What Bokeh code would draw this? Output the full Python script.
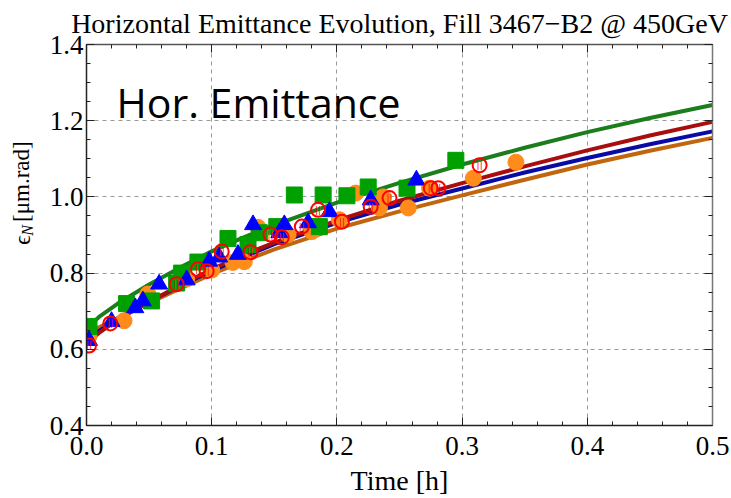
import math
from bokeh.plotting import figure
from bokeh.layouts import row
from bokeh.models import Label, LinearAxis, Range1d, FixedTicker, CustomJSTickFormatter
from bokeh.core.properties import value
from bokeh.embed import file_html
from bokeh.resources import INLINE

# ---- data ----
t_line = [0.0, 0.01, 0.025, 0.05, 0.075, 0.1, 0.125, 0.15, 0.2, 0.25, 0.3, 0.35, 0.4, 0.45, 0.5]
green_line = [0.655, 0.685, 0.720, 0.770, 0.815, 0.857, 0.893, 0.926, 0.985, 1.037, 1.085, 1.129, 1.170, 1.207, 1.241]
red_line = [0.615, 0.643, 0.678, 0.725, 0.768, 0.810, 0.847, 0.880, 0.938, 0.990, 1.036, 1.080, 1.122, 1.161, 1.197]
blue_line = [0.625, 0.648, 0.680, 0.725, 0.766, 0.806, 0.842, 0.876, 0.932, 0.980, 1.022, 1.064, 1.102, 1.138, 1.172]
orange_line = [0.640, 0.658, 0.682, 0.722, 0.760, 0.797, 0.831, 0.862, 0.917, 0.962, 1.004, 1.045, 1.085, 1.121, 1.155]

green_t = [0.002, 0.032, 0.052, 0.072, 0.076, 0.089, 0.113, 0.129, 0.138, 0.152, 0.166, 0.186, 0.189, 0.208, 0.225, 0.256, 0.295]
green_v = [0.660, 0.720, 0.727, 0.774, 0.800, 0.829, 0.891, 0.875, 0.906, 0.922, 1.005, 0.922, 1.005, 1.003, 1.026, 1.023, 1.096]

blue_t = [0.002, 0.020, 0.039, 0.045, 0.058, 0.080, 0.098, 0.106, 0.121, 0.133, 0.154, 0.158, 0.177, 0.194, 0.227, 0.2635]
blue_v = [0.623, 0.673, 0.709, 0.727, 0.771, 0.782, 0.831, 0.842, 0.849, 0.927, 0.906, 0.927, 0.932, 0.961, 0.992, 1.044]

red_t = [0.002, 0.019, 0.072, 0.089, 0.096, 0.108, 0.131, 0.147, 0.156, 0.172, 0.185, 0.204, 0.227, 0.242, 0.275, 0.281, 0.314]
red_v = [0.610, 0.668, 0.771, 0.810, 0.805, 0.857, 0.855, 0.901, 0.894, 0.922, 0.966, 0.935, 0.974, 0.997, 1.023, 1.023, 1.083]

orange_t = [0.002, 0.030, 0.049, 0.080, 0.100, 0.117, 0.126, 0.137, 0.161, 0.180, 0.202, 0.215, 0.234, 0.237, 0.257, 0.274, 0.309, 0.343]
orange_v = [0.634, 0.675, 0.745, 0.785, 0.808, 0.828, 0.830, 0.920, 0.901, 0.909, 0.940, 1.010, 0.971, 1.000, 0.971, 1.023, 1.049, 1.091]

x_ticks = [0.0, 0.1, 0.2, 0.3, 0.4, 0.5]
y_ticks = [0.4, 0.6, 0.8, 1.0, 1.2, 1.4]

title_text = "Horizontal Emittance Evolution, Fill 3467\u2212B2 @ 450GeV"
x_label = "Time [h]"
y_label_sym = "\u03f5"
y_label_sub = "N"
y_label_unit = "[\u03bcm.rad]"
inset_text = "Hor. Emittance"

SERIF = "Liberation Serif"
W_LEFT = 46

# ---- narrow strip holding the rotated y-axis label ----
lab = figure(width=W_LEFT, height=498, output_backend="svg", toolbar_location=None,
             x_range=Range1d(0, W_LEFT), y_range=Range1d(0, 498),
             x_axis_type=None, y_axis_type=None,
             min_border=0, min_border_left=0, min_border_right=0, min_border_top=0, min_border_bottom=0)
lab.outline_line_color = None
lab.xgrid.visible = False
lab.ygrid.visible = False
lab.background_fill_color = "white"
lab.border_fill_color = "white"
lab.add_layout(Label(x=21, y=236, text=y_label_sym, text_font=SERIF, text_font_size="24px",
                     text_align="left", text_baseline="middle", angle=math.pi / 2, text_color="black"))
lab.add_layout(Label(x=27, y=248, text=y_label_sub, text_font=SERIF, text_font_size="16px",
                     text_font_style="italic", text_align="left", text_baseline="middle",
                     angle=math.pi / 2, text_color="black"))
lab.add_layout(Label(x=21, y=266, text=y_label_unit, text_font=SERIF, text_font_size="23px",
                     text_align="left", text_baseline="middle", angle=math.pi / 2, text_color="black"))

# ---- main plot ----
p = figure(width=731 - W_LEFT, height=498, output_backend="svg", toolbar_location=None,
           x_range=Range1d(0, 0.5), y_range=Range1d(0.4, 1.4),
           min_border_left=84 - W_LEFT, min_border_right=19, min_border_top=43, min_border_bottom=70)
p.outline_line_color = "#555555"
p.background_fill_color = "white"
p.border_fill_color = "white"

p.title.text = title_text
p.title.text_font = SERIF
p.title.text_font_size = "28px"
p.title.text_font_style = "normal"
p.title.align = "center"
p.title.text_color = "black"
p.title.offset = 0
p.title.standoff = 11

# grids
for g in (p.xgrid, p.ygrid):
    g.grid_line_color = "#999999"
    g.grid_line_dash = "4 4"
    g.grid_line_width = 1
p.xgrid.ticker = FixedTicker(ticks=[0.1, 0.2, 0.3, 0.4])
p.ygrid.ticker = FixedTicker(ticks=[0.6, 0.8, 1.0, 1.2])

x_minor = [i * 0.02 for i in range(26)]
y_minor = [0.4 + i * 0.05 for i in range(21)]

def style_axis(ax, ticks, minor, labels=True):
    ax.ticker = FixedTicker(ticks=ticks, minor_ticks=minor)
    ax.axis_line_color = "#222222"
    ax.axis_line_width = 1.5
    ax.major_tick_in = 8
    ax.major_tick_out = 0
    ax.minor_tick_in = 4
    ax.minor_tick_out = 0
    ax.major_tick_line_color = "#222222"
    ax.minor_tick_line_color = "#222222"
    if labels:
        ax.major_label_text_font = SERIF
        ax.major_label_text_font_size = "27px"
        ax.major_label_text_color = "black"
        ax.formatter = CustomJSTickFormatter(code="return tick.toFixed(1);")
    else:
        ax.formatter = CustomJSTickFormatter(code="return '';")
        ax.major_label_standoff = 0

style_axis(p.xaxis[0], x_ticks, x_minor)
style_axis(p.yaxis[0], y_ticks, y_minor)
p.xaxis[0].major_label_standoff = 11
p.yaxis[0].major_label_standoff = 3
p.xaxis[0].axis_label = x_label
p.xaxis[0].axis_label_text_font = SERIF
p.xaxis[0].axis_label_text_font_size = "28px"
p.xaxis[0].axis_label_text_font_style = "normal"
p.xaxis[0].axis_label_text_color = "black"
p.xaxis[0].axis_label_standoff = 7

right_ax = LinearAxis()
style_axis(right_ax, y_ticks, y_minor, labels=False)
right_ax.axis_line_color = "#777777"
p.add_layout(right_ax, "right")
top_ax = LinearAxis()
style_axis(top_ax, x_ticks, x_minor, labels=False)
top_ax.axis_line_color = "#555555"
p.add_layout(top_ax, "above")

# lines
p.line(t_line, orange_line, line_color="#C2650F", line_width=4)
p.line(t_line, blue_line, line_color="#0A0AA5", line_width=4)
p.line(t_line, red_line, line_color="#A80E0E", line_width=4)
p.line(t_line, green_line, line_color="#1C7D1C", line_width=4)

# markers
p.scatter(orange_t, orange_v, marker="circle", size=16, fill_color="#FF8C1A", line_color="#FF8C1A")
p.scatter(green_t, green_v, marker="square", size=16, fill_color="#00A000", line_color="#00A000")
p.scatter(blue_t, blue_v, marker="triangle", size=17, fill_color="#0000FF", line_color="#0000FF")
p.scatter(red_t, red_v, marker="circle", size=14, fill_color=None, line_color="#FF0000", line_width=2)
p.text(red_t, red_v, text=["||"] * len(red_t), text_color="#FF0000", text_font_size="9px",
       text_align="center", text_baseline="middle", text_font=value("DejaVu Sans"))

# inset text
p.add_layout(Label(x=0.024, y=1.249, text=inset_text, text_font="Open Sans", text_font_size="41px",
                   text_align="left", text_baseline="alphabetic", text_color="black"))

layout = row(lab, p, spacing=0)
open("out.html", "w").write(file_html(layout, INLINE))
